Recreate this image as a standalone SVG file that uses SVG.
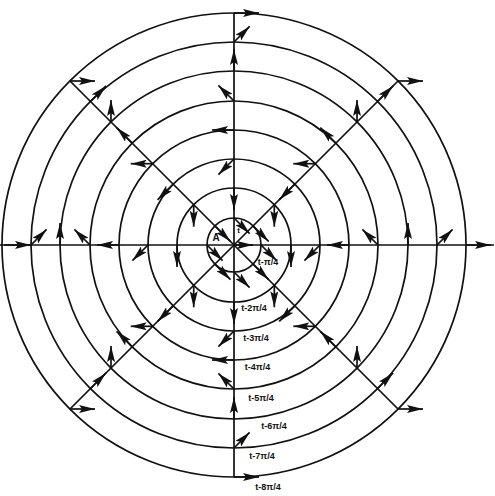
<svg xmlns="http://www.w3.org/2000/svg" width="495" height="496" viewBox="0 0 495 496">
<defs>
<style>
.c{fill:none;stroke:#111;stroke-width:1.7}
.ax{fill:none;stroke:#111;stroke-width:1.7}
.ar{fill:none;stroke:#111;stroke-width:1.7;marker-end:url(#h)}
.lb{font-family:"Liberation Sans",Arial,sans-serif;font-size:9px;font-weight:bold;fill:#111;text-anchor:middle}
</style>
<marker id="h" markerUnits="userSpaceOnUse" markerWidth="16" markerHeight="8" refX="16" refY="4" orient="auto">
<path d="M0,0 L16,4 L0,8 L3,4 z" fill="#111"/>
</marker>
</defs>
<rect width="495" height="496" fill="#fff"/>
<g id="circles">
<circle id="c1" class="c" cx="234" cy="245" r="27"/>
<circle id="c2" class="c" cx="234" cy="245" r="57"/>
<circle id="c3" class="c" cx="234" cy="245" r="86"/>
<circle id="c4" class="c" cx="234" cy="245" r="115"/>
<circle id="c5" class="c" cx="234" cy="245" r="144"/>
<circle id="c6" class="c" cx="234" cy="245" r="174"/>
<circle id="c7" class="c" cx="234" cy="245" r="203"/>
<circle id="c8" class="c" cx="234" cy="245" r="232"/>
</g>
<g id="axes">
<line class="ax" x1="0" y1="245" x2="494" y2="245"/>
<line class="ax" x1="234" y1="13" x2="234" y2="477"/>
<line class="ax" x1="70" y1="81" x2="398" y2="409"/>
<line class="ax" x1="398" y1="81" x2="70" y2="409"/>
</g>
<g id="connectors">
<line class="ar" x1="234" y1="245" x2="253" y2="245"/>
<!-- k1 -->
<line class="ar" x1="261" y1="245" x2="276.6" y2="260.6"/>
<line class="ar" x1="253.1" y1="225.9" x2="268.7" y2="241.5"/>
<line class="ar" x1="234" y1="218" x2="249.6" y2="233.6"/>
<line class="ar" x1="214.9" y1="225.9" x2="230.5" y2="241.5"/>
<line class="ar" x1="207" y1="245" x2="222.6" y2="260.6"/>
<line class="ar" x1="214.9" y1="264.1" x2="230.5" y2="279.7"/>
<line class="ar" x1="234" y1="272" x2="249.6" y2="287.6"/>
<line class="ar" x1="253.1" y1="264.1" x2="268.7" y2="279.7"/>
<!-- k2 -->
<line class="ar" x1="291" y1="245" x2="291" y2="267"/>
<line class="ar" x1="274.3" y1="204.7" x2="274.3" y2="226.7"/>
<line class="ar" x1="234" y1="188" x2="234" y2="210"/>
<line class="ar" x1="193.7" y1="204.7" x2="193.7" y2="226.7"/>
<line class="ar" x1="177" y1="245" x2="177" y2="267"/>
<line class="ar" x1="193.7" y1="285.3" x2="193.7" y2="307.3"/>
<line class="ar" x1="234" y1="302" x2="234" y2="324"/>
<line class="ar" x1="274.3" y1="285.3" x2="274.3" y2="307.3"/>
<!-- k3 -->
<line class="ar" x1="320" y1="245" x2="304.4" y2="260.6"/>
<line class="ar" x1="294.8" y1="184.2" x2="279.2" y2="199.8"/>
<line class="ar" x1="234" y1="159" x2="218.4" y2="174.6"/>
<line class="ar" x1="173.2" y1="184.2" x2="157.6" y2="199.8"/>
<line class="ar" x1="148" y1="245" x2="132.4" y2="260.6"/>
<line class="ar" x1="173.2" y1="305.8" x2="157.6" y2="321.4"/>
<line class="ar" x1="234" y1="331" x2="218.4" y2="346.6"/>
<line class="ar" x1="294.8" y1="305.8" x2="279.2" y2="321.4"/>
<!-- k4 -->
<line class="ar" x1="349" y1="245" x2="327" y2="245"/>
<line class="ar" x1="315.3" y1="163.7" x2="293.3" y2="163.7"/>
<line class="ar" x1="234" y1="130" x2="212" y2="130"/>
<line class="ar" x1="152.7" y1="163.7" x2="130.7" y2="163.7"/>
<line class="ar" x1="119" y1="245" x2="97" y2="245"/>
<line class="ar" x1="152.7" y1="326.3" x2="130.7" y2="326.3"/>
<line class="ar" x1="234" y1="360" x2="212" y2="360"/>
<line class="ar" x1="315.3" y1="326.3" x2="293.3" y2="326.3"/>
<!-- k5 -->
<line class="ar" x1="378" y1="245" x2="362.4" y2="229.4"/>
<line class="ar" x1="335.8" y1="143.2" x2="320.3" y2="127.6"/>
<line class="ar" x1="234" y1="101" x2="218.4" y2="85.4"/>
<line class="ar" x1="132.2" y1="143.2" x2="116.6" y2="127.6"/>
<line class="ar" x1="90" y1="245" x2="74.4" y2="229.4"/>
<line class="ar" x1="132.2" y1="346.8" x2="116.6" y2="331.3"/>
<line class="ar" x1="234" y1="389" x2="218.4" y2="373.4"/>
<line class="ar" x1="335.8" y1="346.8" x2="320.3" y2="331.3"/>
<!-- k6 -->
<line class="ar" x1="408" y1="245" x2="408" y2="223"/>
<line class="ar" x1="357" y1="122" x2="357" y2="100"/>
<line class="ar" x1="234" y1="71" x2="234" y2="49"/>
<line class="ar" x1="111" y1="122" x2="111" y2="100"/>
<line class="ar" x1="60" y1="245" x2="60" y2="223"/>
<line class="ar" x1="111" y1="368" x2="111" y2="346"/>
<line class="ar" x1="234" y1="419" x2="234" y2="397"/>
<line class="ar" x1="357" y1="368" x2="357" y2="346"/>
<!-- k7 -->
<line class="ar" x1="437" y1="245" x2="452.6" y2="229.4"/>
<line class="ar" x1="377.5" y1="101.5" x2="393.1" y2="85.9"/>
<line class="ar" x1="234" y1="42" x2="249.6" y2="26.4"/>
<line class="ar" x1="90.5" y1="101.5" x2="106" y2="85.9"/>
<line class="ar" x1="31" y1="245" x2="46.6" y2="229.4"/>
<line class="ar" x1="90.5" y1="388.5" x2="106" y2="373"/>
<line class="ar" x1="234" y1="448" x2="249.6" y2="432.4"/>
<line class="ar" x1="377.5" y1="388.5" x2="393.1" y2="373"/>
<!-- k8 -->
<line class="ar" x1="466" y1="245" x2="491" y2="245"/>
<line class="ar" x1="398" y1="81" x2="423" y2="81"/>
<line class="ar" x1="234" y1="13" x2="259" y2="13"/>
<line class="ar" x1="70" y1="81" x2="95" y2="81"/>
<line class="ar" x1="4" y1="245" x2="31" y2="245"/>
<line class="ar" x1="70" y1="409" x2="95" y2="409"/>
<line class="ar" x1="234" y1="477" x2="259" y2="477"/>
<line class="ar" x1="398" y1="409" x2="423" y2="409"/>
</g>
<g id="labels">
<text class="lb" x="216" y="241" style="font-size:10px">A</text>
<text class="lb" x="238.5" y="233" style="font-size:8px">t</text>
<text class="lb" x="268" y="265">t-π/4</text>
<text class="lb" x="254" y="311">t-2π/4</text>
<text class="lb" x="256" y="341">t-3π/4</text>
<text class="lb" x="257.5" y="370">t-4π/4</text>
<text class="lb" x="261" y="401">t-5π/4</text>
<text class="lb" x="274" y="429">t-6π/4</text>
<text class="lb" x="262" y="459">t-7π/4</text>
<text class="lb" x="268" y="490">t-8π/4</text>
</g>
</svg>
